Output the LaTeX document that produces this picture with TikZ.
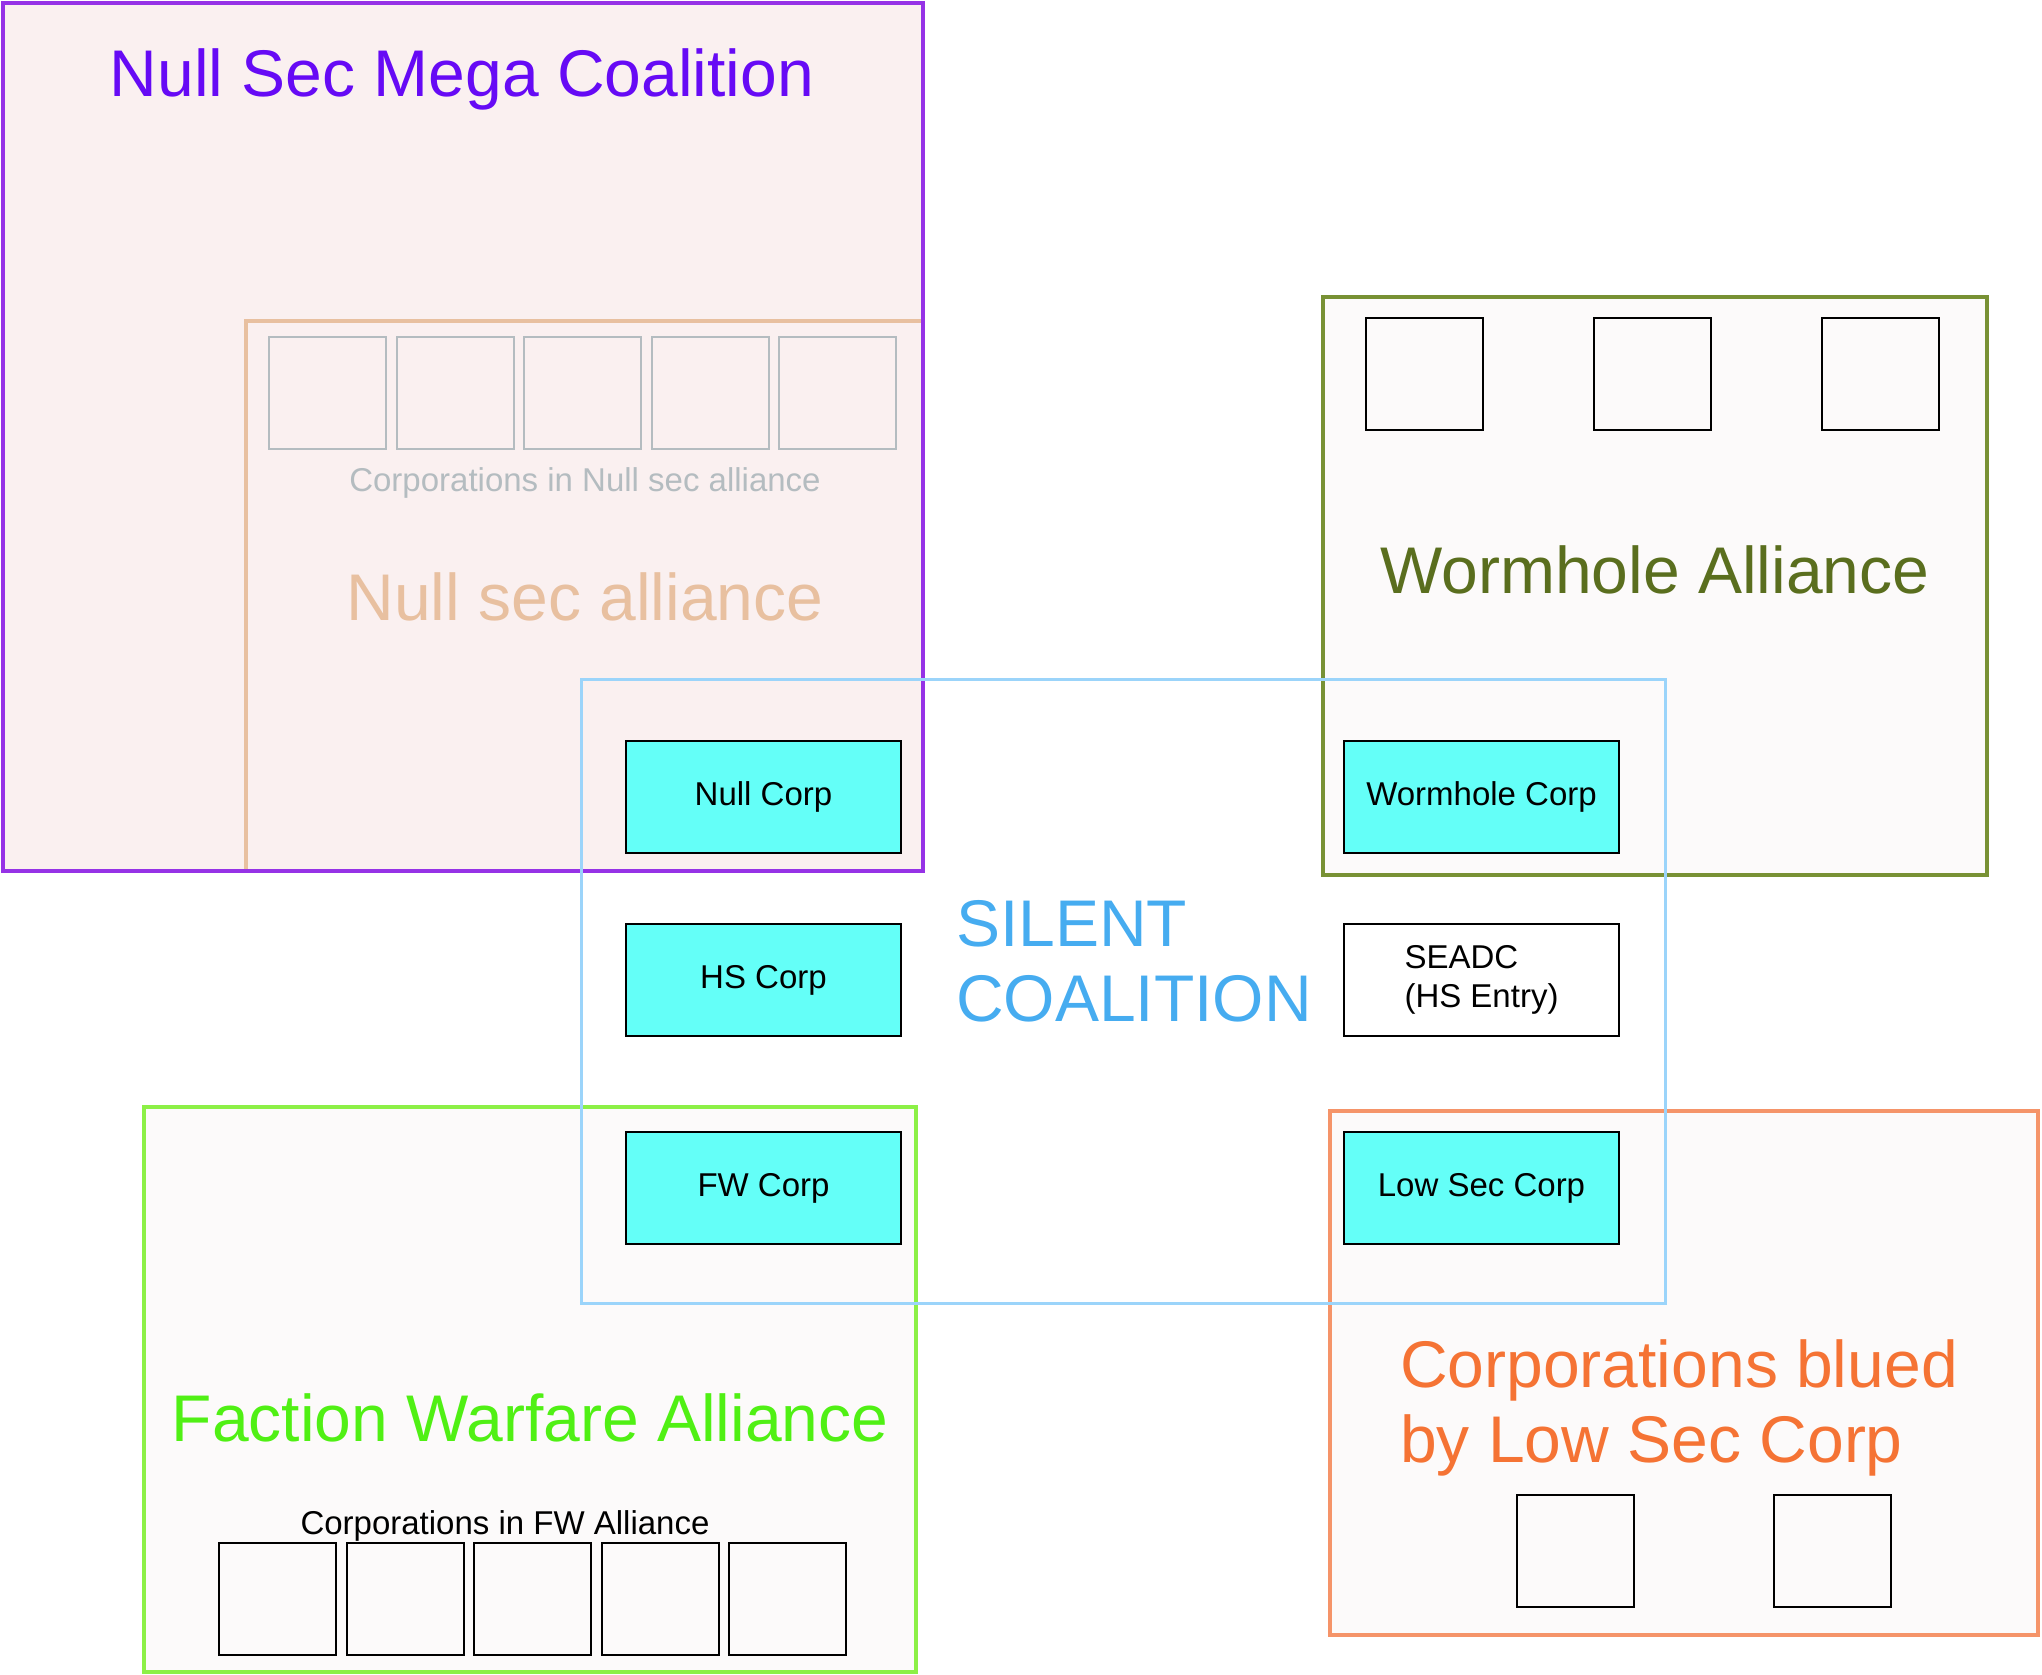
\documentclass[tikz,border=0pt]{standalone}
\usepackage{fontspec}
\setmainfont{Liberation Sans}
\usepackage{tikz}
\usetikzlibrary{positioning}
\definecolor{megaline}{RGB}{150,50,230}
\definecolor{megatext}{RGB}{102,10,245}
\definecolor{megafill}{RGB}{250,240,240}
\definecolor{nullline}{RGB}{232,192,160}
\definecolor{greyline}{RGB}{180,188,192}
\definecolor{silentline}{RGB}{155,212,250}
\definecolor{silenttext}{RGB}{70,172,240}
\definecolor{corpcyan}{RGB}{100,255,248}
\definecolor{whline}{RGB}{120,145,52}
\definecolor{whtext}{RGB}{90,110,30}
\definecolor{otherfill}{RGB}{252,250,250}
\definecolor{fwline}{RGB}{140,240,70}
\definecolor{fwtext}{RGB}{80,240,20}
\definecolor{lowline}{RGB}{245,148,105}
\definecolor{lowtext}{RGB}{245,115,52}
\tikzset{region/.style = {draw, line width=3.5pt, anchor=north west, inner sep=0pt, outer sep=0pt}}
\tikzset{corp/.style = {draw=black, line width=2pt, fill=corpcyan, anchor=north west, outer sep=0pt,
    minimum width=275pt, minimum height=112pt, inner sep=0pt, font=\fontsize{33}{39}\selectfont}}
\tikzset{member/.style = {draw=black, line width=2pt, anchor=north west, outer sep=0pt,
    minimum width=117pt, minimum height=112pt, inner sep=0pt}}
\tikzset{title/.style = {font=\fontsize{66}{75}\selectfont, anchor=base, inner sep=0pt}}
\tikzset{caption/.style = {font=\fontsize{33}{39}\selectfont, anchor=base, inner sep=0pt}}

\begin{document}
\begin{tikzpicture}[x=1pt, y=-1pt]
    \useasboundingbox (0,0) rectangle (2042,1675);

    % Null sec mega coalition
    \node [region, draw=none, fill=megafill, minimum width=920pt, minimum height=868pt] (mega) at (3,3) {};
    \node [title, text=megatext] (megatitle) at (462,97) {Null Sec Mega Coalition};

    % Null sec alliance and its corporations
    \node [region, draw=nullline, fill=megafill, minimum width=677pt, minimum height=550pt] (nullsec) at (246,321) {};
    \node [member, draw=greyline] (ns1) at (269,337) {};
    \node [member, draw=greyline, right=10.5pt of ns1] (ns2) {};
    \node [member, draw=greyline, right=10.5pt of ns2] (ns3) {};
    \node [member, draw=greyline, right=10.5pt of ns3] (ns4) {};
    \node [member, draw=greyline, right=10.5pt of ns4] (ns5) {};
    \node [caption, text=greyline] (nscaption) at (585,491) {Corporations in Null sec alliance};
    \node [title, text=nullline] (nstitle) at (585,620) {Null sec alliance};

    % Border of the coalition on top of the alliance
    \draw [megaline, line width=3.5pt] (mega.north west) rectangle (mega.south east);

    % Wormhole alliance
    \node [region, draw=whline, fill=otherfill, minimum width=664pt, minimum height=578pt] (wormhole) at (1323,297) {};
    \node [member] (wh1) at (1366,318) {};
    \node [member, right=111pt of wh1] (wh2) {};
    \node [member, right=111pt of wh2] (wh3) {};
    \node [title, text=whtext] (whtitle) at (1655,593) {Wormhole Alliance};

    % Faction warfare alliance
    \node [region, draw=fwline, fill=otherfill, minimum width=772pt, minimum height=565pt] (fw) at (144,1107) {};
    \node [title, text=fwtext] (fwtitle) at (530,1441) {Faction Warfare Alliance};
    \node [caption] (fwcaption) at (505,1534) {Corporations in FW Alliance};
    \node [member] (fw1) at (219,1543) {};
    \node [member, right=10.5pt of fw1] (fw2) {};
    \node [member, right=10.5pt of fw2] (fw3) {};
    \node [member, right=10.5pt of fw3] (fw4) {};
    \node [member, right=10.5pt of fw4] (fw5) {};

    % Corporations blued by low sec corp
    \node [region, draw=lowline, fill=otherfill, minimum width=708pt, minimum height=524pt] (lowsec) at (1330,1111) {};
    \node [font=\fontsize{66}{75}\selectfont, text=lowtext, align=left, anchor=north west, inner sep=0pt] (lowtitle) at (1400,1339) {Corporations blued\\by Low Sec Corp};
    \node [member] (ls1) at (1517,1495) {};
    \node [member, right=140pt of ls1] (ls2) {};

    % Silent coalition
    \node [region, draw=silentline, line width=3pt, minimum width=1084pt, minimum height=624pt] (silent) at (581,679) {};
    \node [font=\fontsize{66}{75}\selectfont, text=silenttext, align=left, anchor=north west, inner sep=0pt] (silenttitle) at (956,900) {SILENT\\COALITION};
    \node [corp] (nullcorp) at (626,741) {Null Corp};
    \node [corp] (hscorp) at (626,924) {HS Corp};
    \node [corp] (fwcorp) at (626,1132) {FW Corp};
    \node [corp] (whcorp) at (1344,741) {Wormhole Corp};
    \node [corp, fill=white, align=left] (seadc) at (1344,924) {SEADC\\(HS Entry)};
    \node [corp] (lowcorp) at (1344,1132) {Low Sec Corp};
\end{tikzpicture}
\end{document}
